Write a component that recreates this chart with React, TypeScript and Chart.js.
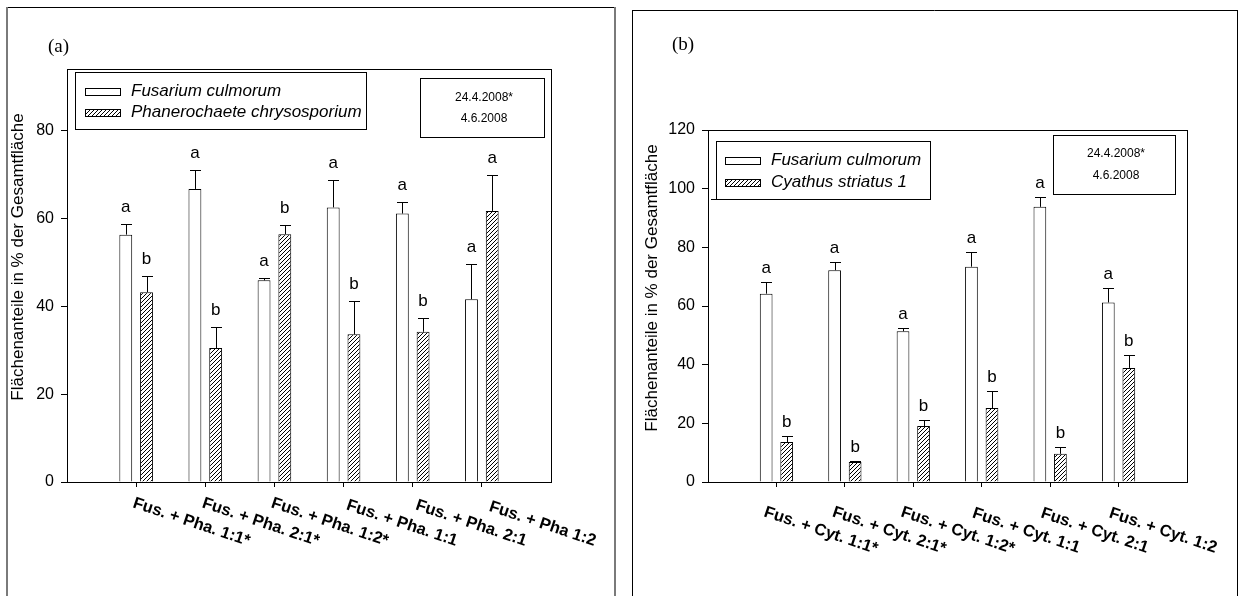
import React, { useEffect, useRef } from "react";
import { Chart, registerables } from "chart.js";

Chart.register(...registerables);

const SANS = '"Liberation Sans", Arial, Helvetica, sans-serif';
const SERIF = '"Liberation Serif", "Times New Roman", serif';

// Panel (a): Fusarium culmorum against Phanerochaete chrysosporium
const categoriesA = [
  "Fus. + Pha. 1:1*",
  "Fus. + Pha. 2:1*",
  "Fus. + Pha. 1:2*",
  "Fus. + Pha. 1:1",
  "Fus. + Pha. 2:1",
  "Fus. + Pha 1:2",
];
const fusariumA = [56.3, 66.7, 45.9, 62.5, 61.1, 41.6];
const fusariumErrA = [2.5, 4.2, 0.5, 6.2, 2.7, 8.1];
const fusariumLettersA = ["a", "a", "a", "a", "a", "a"];
const phaneroA = [43.2, 30.5, 56.4, 33.6, 34.2, 61.7];
const phaneroErrA = [3.6, 4.7, 2.1, 7.6, 3.1, 8.2];
const phaneroLettersA = ["b", "b", "b", "b", "b", "a"];
const yTicksA = [0, 20, 40, 60, 80];

// Panel (b): Fusarium culmorum against Cyathus striatus 1
const categoriesB = [
  "Fus. + Cyt. 1:1*",
  "Fus. + Cyt. 2:1*",
  "Fus. + Cyt. 1:2*",
  "Fus. + Cyt. 1:1",
  "Fus. + Cyt. 2:1",
  "Fus. + Cyt. 1:2",
];
const fusariumB = [64.2, 72.2, 51.4, 73.4, 93.8, 61.2];
const fusariumErrB = [3.9, 2.8, 1.1, 5.1, 3.4, 5.0];
const fusariumLettersB = ["a", "a", "a", "a", "a", "a"];
const cyathusB = [13.6, 6.8, 19.1, 25.2, 9.6, 38.9];
const cyathusErrB = [2.1, 0.3, 1.9, 5.7, 2.3, 4.3];
const cyathusLettersB = ["b", "b", "b", "b", "b", "b"];
const yTicksB = [0, 20, 40, 60, 80, 100, 120];

const dateLines = ["24.4.2008*", "4.6.2008"];
const yTitle = "Flächenanteile in % der Gesamtfläche";

type Series = {
  label: string;
  values: number[];
  errors: number[];
  letters: string[];
  hatched: boolean;
};

type Panel = {
  tag: string;
  tagX: number;
  tagY: number;
  categories: string[];
  series: Series[];
  yMax: number;
  yTicks: number[];
  width: number;
  height: number;
  area: { left: number; top: number; right: number; bottom: number };
  frame: { left: number; top: number; right: number; side: string; sideWidth: number };
  legend: { x0: number; y0: number; x1: number; y1: number; sw0: number; sw1: number; rows: number[]; textX: number; tail?: number };
  dates: { x0: number; y0: number; x1: number; y1: number; cx: number; rows: number[] };
  titleX: number;
  titleY: number;
  labelAlign: CanvasTextAlign;
  labelDx: number;
  labelDy: number;
  letterGap: number;
};

const panelA: Panel = {
  tag: "(a)",
  tagX: 48,
  tagY: 47,
  categories: categoriesA,
  series: [
    { label: "Fusarium culmorum", values: fusariumA, errors: fusariumErrA, letters: fusariumLettersA, hatched: false },
    { label: "Phanerochaete chrysosporium", values: phaneroA, errors: phaneroErrA, letters: phaneroLettersA, hatched: true },
  ],
  yMax: 94,
  yTicks: yTicksA,
  width: 620,
  height: 596,
  area: { left: 67, top: 69, right: 551, bottom: 482 },
  frame: { left: 7, top: 7, right: 615, side: "#7a7a7a", sideWidth: 2 },
  legend: { x0: 75, y0: 72, x1: 366, y1: 129, sw0: 85, sw1: 120, rows: [91.5, 112.5], textX: 131 },
  dates: { x0: 420, y0: 78, x1: 544, y1: 137, cx: 484, rows: [98, 119] },
  titleX: 18,
  titleY: 257,
  labelAlign: "right",
  labelDx: 112,
  labelDy: 64,
  letterGap: 17,
};

const panelB: Panel = {
  tag: "(b)",
  tagX: 52,
  tagY: 45,
  categories: categoriesB,
  series: [
    { label: "Fusarium culmorum", values: fusariumB, errors: fusariumErrB, letters: fusariumLettersB, hatched: false },
    { label: "Cyathus striatus 1", values: cyathusB, errors: cyathusErrB, letters: cyathusLettersB, hatched: true },
  ],
  yMax: 120,
  yTicks: yTicksB,
  width: 619,
  height: 596,
  area: { left: 88, top: 130, right: 567, bottom: 482 },
  frame: { left: 12, top: 10, right: 617, side: "#000", sideWidth: 1 },
  legend: { x0: 96, y0: 141, x1: 310, y1: 199, sw0: 105, sw1: 140, rows: [160.5, 182], textX: 151, tail: 91 },
  dates: { x0: 433, y0: 135, x1: 555, y1: 194, cx: 496, rows: [154, 176] },
  titleX: 32,
  titleY: 288,
  labelAlign: "center",
  labelDx: 43,
  labelDy: 53,
  letterGap: 14,
};

function makeHatch(): CanvasPattern | string {
  const c = document.createElement("canvas");
  c.width = 4;
  c.height = 4;
  const g = c.getContext("2d");
  if (!g) return "#888";
  g.fillStyle = "#fff";
  g.fillRect(0, 0, 4, 4);
  g.strokeStyle = "#000";
  g.lineWidth = 1;
  g.beginPath();
  g.moveTo(-1, 5);
  g.lineTo(5, -1);
  g.moveTo(-1, 1);
  g.lineTo(1, -1);
  g.moveTo(3, 5);
  g.lineTo(5, 3);
  g.stroke();
  return g.createPattern(c, "repeat") || "#888";
}

const decor = {
  id: "panelDecor",
  afterDatasetsDraw(chart: any, _args: unknown, opts: any) {
    const p: Panel = opts.panel;
    if (!p) return;
    const ctx: CanvasRenderingContext2D = chart.ctx;
    const y = chart.scales.y;
    ctx.save();
    ctx.strokeStyle = "#000";
    ctx.fillStyle = "#000";
    ctx.lineWidth = 1;
    ctx.font = `17px ${SANS}`;
    ctx.textAlign = "center";
    ctx.textBaseline = "middle";
    p.series.forEach((s, di) => {
      const meta = chart.getDatasetMeta(di);
      s.values.forEach((v, i) => {
        const bar = meta.data[i + 1];
        if (!bar) return;
        const cx = Math.round(bar.x) + 0.5;
        const yBar = y.getPixelForValue(v);
        const yErr = Math.round(y.getPixelForValue(v + s.errors[i])) + 0.5;
        ctx.beginPath();
        ctx.moveTo(cx, yBar);
        ctx.lineTo(cx, yErr);
        ctx.moveTo(cx - 5.5, yErr);
        ctx.lineTo(cx + 5.5, yErr);
        ctx.stroke();
        ctx.fillText(s.letters[i], bar.x, yErr - p.letterGap);
      });
    });
    ctx.restore();
  },
  afterDraw(chart: any, _args: unknown, opts: any) {
    const p: Panel = opts.panel;
    if (!p) return;
    const ctx: CanvasRenderingContext2D = chart.ctx;
    const a = chart.chartArea;
    ctx.save();

    // outer frame of the panel
    ctx.strokeStyle = "#000";
    ctx.lineWidth = 1;
    ctx.beginPath();
    ctx.moveTo(p.frame.left, p.frame.top + 0.5);
    ctx.lineTo(p.frame.right, p.frame.top + 0.5);
    ctx.stroke();
    ctx.strokeStyle = p.frame.side;
    ctx.lineWidth = p.frame.sideWidth;
    const off = p.frame.sideWidth % 2 === 1 ? 0.5 : 0;
    ctx.beginPath();
    ctx.moveTo(p.frame.left + off, p.frame.top);
    ctx.lineTo(p.frame.left + off, p.height);
    ctx.moveTo(p.frame.right + off, p.frame.top);
    ctx.lineTo(p.frame.right + off, p.height);
    ctx.stroke();

    // plot box
    ctx.strokeStyle = "#000";
    ctx.lineWidth = 1;
    ctx.strokeRect(Math.round(a.left) + 0.5, Math.round(a.top) + 0.5, Math.round(a.right - a.left), Math.round(a.bottom - a.top));

    // panel tag
    ctx.fillStyle = "#000";
    ctx.font = `19px ${SERIF}`;
    ctx.textAlign = "left";
    ctx.textBaseline = "middle";
    ctx.fillText(p.tag, p.tagX, p.tagY);

    // legend box
    const L = p.legend;
    ctx.fillStyle = "#fff";
    ctx.fillRect(L.x0, L.y0, L.x1 - L.x0, L.y1 - L.y0);
    ctx.strokeStyle = "#000";
    ctx.strokeRect(L.x0 + 0.5, L.y0 + 0.5, L.x1 - L.x0, L.y1 - L.y0);
    if (L.tail !== undefined) {
      ctx.beginPath();
      ctx.moveTo(L.tail, L.y1 + 0.5);
      ctx.lineTo(L.x0, L.y1 + 0.5);
      ctx.stroke();
    }
    p.series.forEach((s, i) => {
      const ds = chart.data.datasets[i];
      const yc = L.rows[i];
      ctx.fillStyle = ds.backgroundColor;
      ctx.fillRect(L.sw0, Math.round(yc - 3.5), L.sw1 - L.sw0, 7);
      ctx.strokeRect(L.sw0 + 0.5, Math.round(yc - 3.5) + 0.5, L.sw1 - L.sw0, 7);
      ctx.fillStyle = "#000";
      ctx.font = `italic 17px ${SANS}`;
      ctx.textAlign = "left";
      ctx.textBaseline = "middle";
      ctx.fillText(s.label, L.textX, yc);
    });

    // date box
    const D = p.dates;
    ctx.fillStyle = "#fff";
    ctx.fillRect(D.x0, D.y0, D.x1 - D.x0, D.y1 - D.y0);
    ctx.strokeRect(D.x0 + 0.5, D.y0 + 0.5, D.x1 - D.x0, D.y1 - D.y0);
    ctx.fillStyle = "#000";
    ctx.font = `12px ${SANS}`;
    ctx.textAlign = "center";
    dateLines.forEach((t, i) => ctx.fillText(t, D.cx, D.rows[i]));

    // y axis title
    ctx.save();
    ctx.translate(p.titleX, p.titleY);
    ctx.rotate(-Math.PI / 2);
    ctx.font = `17px ${SANS}`;
    ctx.textAlign = "center";
    ctx.textBaseline = "middle";
    ctx.fillText(yTitle, 0, 0);
    ctx.restore();

    // slanted category labels
    const xs = chart.scales.x;
    ctx.font = `bold 16.5px ${SANS}`;
    ctx.textAlign = p.labelAlign;
    ctx.textBaseline = "alphabetic";
    p.categories.forEach((lab, i) => {
      const x = xs.getPixelForTick(i + 1);
      ctx.save();
      ctx.translate(x + p.labelDx, a.bottom + p.labelDy);
      ctx.rotate((18.5 * Math.PI) / 180);
      ctx.fillText(lab, 0, 0);
      ctx.restore();
    });

    ctx.restore();
  },
};

function buildChart(canvas: HTMLCanvasElement, p: Panel): Chart {
  const hatch = makeHatch();
  const n = p.categories.length;
  const labels = ["", ...p.categories, ""];
  return new Chart(canvas, {
    type: "bar",
    data: {
      labels,
      datasets: p.series.map((s) => ({
        label: s.label,
        data: [null, ...s.values, null],
        backgroundColor: s.hatched ? hatch : "#ffffff",
        borderColor: "#000000",
        borderWidth: 1,
        categoryPercentage: 0.6,
        barPercentage: 0.62,
      })),
    } as any,
    options: {
      responsive: false,
      maintainAspectRatio: false,
      animation: false,
      layout: { padding: { left: 0, top: p.area.top, right: p.width - p.area.right, bottom: 0 } },
      plugins: {
        legend: { display: false },
        tooltip: { enabled: false },
        title: { display: false },
        panelDecor: { panel: p },
      } as any,
      scales: {
        x: {
          type: "category",
          offset: false,
          border: { display: false },
          grid: {
            offset: false,
            drawOnChartArea: false,
            drawTicks: true,
            tickLength: 5,
            lineWidth: 1,
            color: (c: any) => (c.index === 0 || c.index === n + 1 ? "rgba(0,0,0,0)" : "#000"),
          },
          ticks: { display: false },
          afterFit: (s: any) => {
            s.height = p.height - p.area.bottom;
          },
        },
        y: {
          min: 0,
          max: p.yMax,
          border: { display: false },
          grid: { drawOnChartArea: false, drawTicks: true, tickLength: 6, color: "#000", lineWidth: 1 },
          ticks: { color: "#000", padding: 7, font: { family: SANS, size: 16 } },
          afterBuildTicks: (s: any) => {
            s.ticks = p.yTicks.map((v) => ({ value: v }));
          },
          afterFit: (s: any) => {
            s.width = p.area.left;
          },
        },
      } as any,
    },
    plugins: [decor as any],
  });
}

export default function App() {
  const refA = useRef<HTMLCanvasElement | null>(null);
  const refB = useRef<HTMLCanvasElement | null>(null);

  useEffect(() => {
    const charts: Chart[] = [];
    if (refA.current) charts.push(buildChart(refA.current, panelA));
    if (refB.current) charts.push(buildChart(refB.current, panelB));
    return () => charts.forEach((c) => c.destroy());
  }, []);

  return (
    <div style={{ position: "absolute", left: 0, top: 0, width: 1239, height: 596, background: "#fff", overflow: "hidden" }}>
      <canvas ref={refA} width={620} height={596} style={{ position: "absolute", left: 0, top: 0, width: 620, height: 596 }} />
      <canvas ref={refB} width={619} height={596} style={{ position: "absolute", left: 620, top: 0, width: 619, height: 596 }} />
    </div>
  );
}
